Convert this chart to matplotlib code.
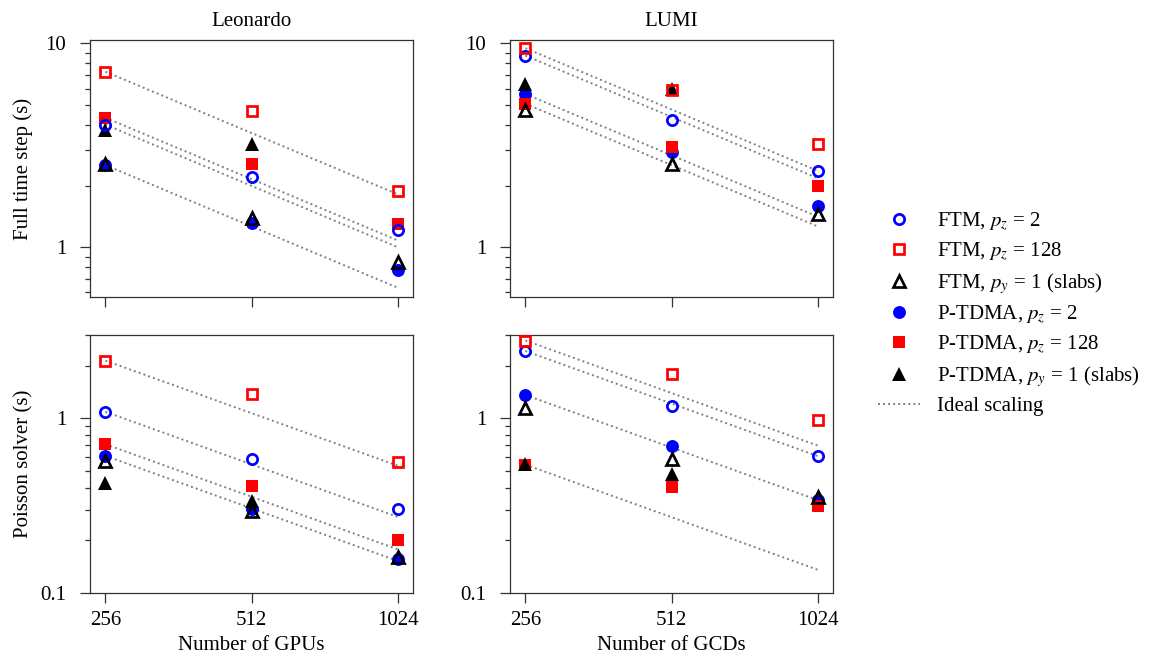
import numpy as np
import matplotlib
matplotlib.use("Agg")
import matplotlib.pyplot as plt
from matplotlib.lines import Line2D
from matplotlib.ticker import (FixedLocator, FuncFormatter, LogLocator,
                               NullFormatter, NullLocator)

# =========================================================
# data (times in seconds)
# =========================================================
nodes = [256, 512, 1024]
node_labels = ["256", "512", "1024"]

# Leonardo, full time step
leo_full_ftm_pz2 = [4.00, 2.20, 1.21]
leo_full_ftm_pz128 = [7.27, 4.64, 1.89]
leo_full_ftm_slabs = [2.57, 1.39, 0.85]
leo_full_ptdma_pz2 = [2.53, 1.32, 0.77]
leo_full_ptdma_pz128 = [4.32, 2.57, 1.30]
leo_full_ptdma_slabs = [3.75, 3.20, np.nan]

# LUMI, full time step
lumi_full_ftm_pz2 = [8.72, 4.23, 2.38]
lumi_full_ftm_pz128 = [9.48, 5.93, 3.22]
lumi_full_ftm_slabs = [4.72, 2.57, 1.46]
lumi_full_ptdma_pz2 = [5.65, 2.93, 1.59]
lumi_full_ptdma_pz128 = [5.06, 3.10, 2.00]
lumi_full_ptdma_slabs = [6.35, 6.00, np.nan]

# Leonardo, Poisson solver
leo_pois_ftm_pz2 = [1.09, 0.584, 0.301]
leo_pois_ftm_pz128 = [2.14, 1.38, 0.563]
leo_pois_ftm_slabs = [0.571, 0.294, 0.160]
leo_pois_ptdma_pz2 = [0.61, 0.304, 0.157]
leo_pois_ptdma_pz128 = [0.711, 0.41, 0.202]
leo_pois_ptdma_slabs = [0.429, 0.336, np.nan]

# LUMI, Poisson solver
lumi_pois_ftm_pz2 = [2.43, 1.17, 0.609]
lumi_pois_ftm_pz128 = [2.79, 1.79, 0.978]
lumi_pois_ftm_slabs = [1.14, 0.582, 0.353]
lumi_pois_ptdma_pz2 = [1.36, 0.695, 0.34]
lumi_pois_ptdma_pz128 = [0.543, 0.404, 0.315]
lumi_pois_ptdma_slabs = [0.55, 0.482, np.nan]

panels = {
    (0, 0): [leo_full_ftm_pz2, leo_full_ftm_pz128, leo_full_ftm_slabs,
             leo_full_ptdma_pz2, leo_full_ptdma_pz128, leo_full_ptdma_slabs],
    (0, 1): [lumi_full_ftm_pz2, lumi_full_ftm_pz128, lumi_full_ftm_slabs,
             lumi_full_ptdma_pz2, lumi_full_ptdma_pz128, lumi_full_ptdma_slabs],
    (1, 0): [leo_pois_ftm_pz2, leo_pois_ftm_pz128, leo_pois_ftm_slabs,
             leo_pois_ptdma_pz2, leo_pois_ptdma_pz128, leo_pois_ptdma_slabs],
    (1, 1): [lumi_pois_ftm_pz2, lumi_pois_ftm_pz128, lumi_pois_ftm_slabs,
             lumi_pois_ptdma_pz2, lumi_pois_ptdma_pz128, lumi_pois_ptdma_slabs],
}

labels = [r"FTM, $p_z$ = 2", r"FTM, $p_z$ = 128", r"FTM, $p_y$ = 1 (slabs)",
          r"P-TDMA, $p_z$ = 2", r"P-TDMA, $p_z$ = 128",
          r"P-TDMA, $p_y$ = 1 (slabs)"]
colors = ["blue", "red", "black", "blue", "red", "black"]
markers = ["o", "s", "^", "o", "s", "^"]
filled = [False, False, False, True, True, True]
sizes = {"o": 9.3, "s": 9.3, "^": 10.3}
# ideal scaling drawn for the pencil (non-slab) cases
ideal_idx = [0, 1, 3, 4]

titles = ["Leonardo", "LUMI"]
xlabels = ["Number of GPUs", "Number of GCDs"]
ylabels = ["Full time step (s)", "Poisson solver (s)"]
ylims = [(0.57, 10.4), (0.1, 3.0)]

# =========================================================
# style
# =========================================================
plt.rcParams["font.family"] = ["Liberation Serif", "DejaVu Serif"]
plt.rcParams["mathtext.fontset"] = "stix"
plt.rcParams["font.size"] = 15

W, H = 1156, 668
fig = plt.figure(figsize=(W / 100, H / 100), dpi=100)

# axes boxes in pixels: left, top, right, bottom
boxes = {(0, 0): (90, 40, 413, 297), (0, 1): (510, 40, 833, 297),
         (1, 0): (90, 335, 413, 593), (1, 1): (510, 335, 833, 593)}


def style_marker(i):
    ms = sizes[markers[i]]
    if filled[i]:
        return dict(marker=markers[i], ms=ms, mfc=colors[i], mec=colors[i],
                    mew=0.0)
    return dict(marker=markers[i], ms=ms - 1.9, mfc="none", mec=colors[i],
                mew=1.95)


ideal_style = dict(color="gray", lw=1.4, linestyle=(0, (1, 1.6)))

for (r, c), series in panels.items():
    l, t, rr, b = boxes[(r, c)]
    ax = fig.add_axes([l / W, 1 - b / H, (rr - l) / W, (b - t) / H])
    ax.set_xscale("log", base=2)
    ax.set_yscale("log")

    # ideal scaling from the 256 value
    for i in ideal_idx:
        v0 = series[i][0]
        ideal = [v0 * nodes[0] / n for n in nodes]
        ax.plot(nodes, ideal, zorder=1, **ideal_style)

    # filled markers first, open ones on top
    order = [3, 4, 5, 0, 1, 2]
    for i in order:
        ax.plot(nodes, series[i], linestyle="none", zorder=3,
                **style_marker(i))

    ax.set_xlim(238, 1100)
    ax.set_ylim(*ylims[r])
    ax.xaxis.set_major_locator(FixedLocator(nodes))
    if r == 1:
        ax.xaxis.set_major_formatter(FuncFormatter(
            lambda v, p: node_labels[nodes.index(int(round(v)))]
            if int(round(v)) in nodes else ""))
    else:
        ax.xaxis.set_major_formatter(NullFormatter())
    ax.xaxis.set_minor_locator(NullLocator())
    ax.yaxis.set_major_locator(FixedLocator([0.1, 1, 10]))
    ax.yaxis.set_major_formatter(FuncFormatter(lambda v, p: "%g" % v))
    ax.yaxis.set_minor_locator(LogLocator(base=10, subs=np.arange(2, 10)))
    ax.yaxis.set_minor_formatter(NullFormatter())

    ax.tick_params(which="major", direction="out", length=7, width=0.9,
                   color="#333333")
    ax.tick_params(which="minor", direction="out", length=3.8, width=0.9,
                   color="#333333")
    ax.tick_params(axis="y", which="major", pad=10)
    ax.tick_params(axis="x", which="major", pad=6)
    for s in ax.spines.values():
        s.set_linewidth(0.9)
        s.set_color("#333333")

    if r == 0:
        ax.set_title(titles[c], pad=10, fontsize=15)
    if r == 1:
        ax.set_xlabel(xlabels[c])
        ax.xaxis.set_label_coords(0.5, -0.165)
    if c == 0:
        ax.set_ylabel(ylabels[r])
        ax.yaxis.set_label_coords(-0.175, 0.5)

# =========================================================
# legend
# =========================================================
handles = []
for i in range(6):
    handles.append(Line2D([], [], linestyle="none", **style_marker(i)))
handles.append(Line2D([], [], **ideal_style))
fig.legend(handles, labels + ["Ideal scaling"], loc="center left",
           bbox_to_anchor=(868 / W, 1 - 313 / H), frameon=False,
           borderpad=0, handlelength=2.0, handletextpad=0.8,
           labelspacing=0.37, fontsize=15)

plt.savefig("out.png", dpi=100)
